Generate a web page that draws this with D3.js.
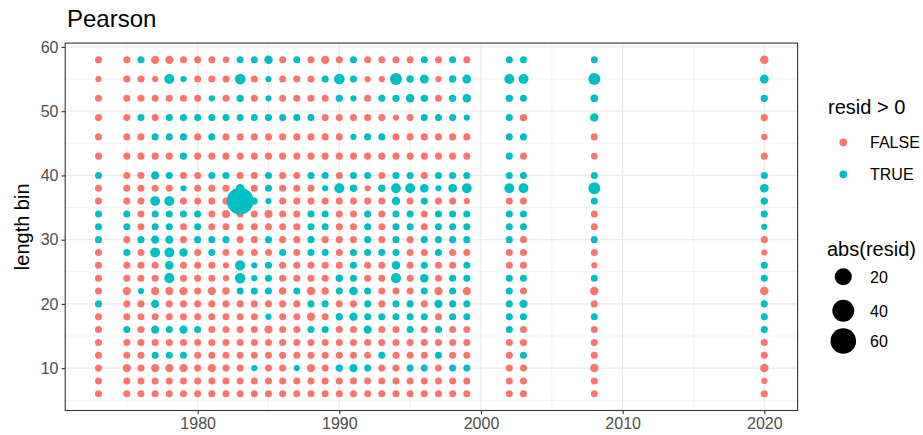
<!DOCTYPE html>
<html>
<head>
<meta charset="utf-8">
<script src="https://cdn.jsdelivr.net/npm/d3@7"></script>
<style>
  body { margin: 0; background: #fff; }
  text { font-family: "Liberation Sans", Arial, sans-serif; }
</style>
</head>
<body>
<svg id="chart" width="923" height="435"></svg>
<script>
// sampled years (x) and length bins (y)
const years = [1973, 1975, 1976, 1977, 1978, 1979, 1980, 1981, 1982, 1983, 1984, 1985, 1986,
  1987, 1988, 1989, 1990, 1991, 1992, 1993, 1994, 1995, 1996, 1997, 1998, 1999, 2002, 2003, 2008, 2020];
const bins = [58, 55, 52, 49, 46, 43, 40, 38, 36, 34, 32, 30, 28, 26, 24, 22, 20, 18, 16, 14, 12, 10, 8, 6];

// pearson residuals, one row per bin (same order as bins), one column per year
const resid = [
  [-.4,-.4,.4,-1.2,-1.2,-.4,-.4,-.4, -.2,.4,.4,1.4,-.4,.4,-.4,-1.2,-.4, .4,-.4,-.4,-.4,-.4,.4,-.4,.4,-.4, .4,.4,.4,-1.4],
  [-.1,-.4,-.4,-.1,3.1,.1,-.4,-.4, -.4,4.1,-.4,.1,-.4,-.4,-.4,.4,4, .4,-.1,-.1,6.4,.6,1.8,-.1,.6,1.8, 3.1,3.1,6.4,1.8],
  [-.4,-.4,-.4,-.4,-.4,-.4,-.4,.1, -.4,.6,-.4,.1,-.4,-.4,-.4,-.4,.6, .1,-.4,.4,.6,1.4,.6,-.4,.6,1.4, .6,.4,.8,.6],
  [-.4,-.4,.4,-.4,.4,.4,.4,.4, .4,.4,.4,.4,.4,.4,.4,-.4,-.4, -.4,-.4,-.4,-.1,-.4,.4,.4,.4,.1, .4,-.6,1.4,-.5],
  [-.4,-.4,-.4,.4,.4,.4,-.4,.4, -.4,-.4,-.4,-.4,-.4,-.4,-.4,-.4,-.4, .1,.4,.4,-.4,-.4,-.4,-.4,-.4,-.4, .4,.4,-.4,-.1],
  [-.4,-.4,-.4,-.4,-.4,.4,-.4,-.4, -.4,-.4,-.4,-.4,-.4,-.4,-.4,-.4,-.4, -.4,-.4,-.4,-.4,-.4,-.4,-.4,-.4,-.4, .4,-.4,-.3,-.4],
  [.4,-.4,-.4,1.2,.4,-.4,-.4,.4, .4,-.4,-.4,.4,-.4,-.4,.4,.4,-.4, .4,.4,-.4,.4,.4,-.4,.4,.4,.4, .4,.4,.4,.4],
  [-.4,-.4,-.4,-.4,-.4,.1,-.4,-.4, -.4,1.5,-.4,.4,-.4,-.4,-.4,.1,3.3, .6,-.1,.6,3,3,1.6,.1,1.6,3, 3,3,6.2,1.6],
  [-.4,-.4,-.4,3,3,-.4,-.4,-.4, -.4,68,.4,.1,-.4,-.4,-.4,-.4,-.4, -.4,-.4,-.4,1.4,-.4,.4,-.4,-.4,-.1, -.4,-.4,.4,.6],
  [.4,.4,-.4,.4,.4,.4,.4,-.4, -1,-.4,-.4,-1,-.4,-.4,.4,.4,-.4, -.4,.4,-.4,.4,.4,-.4,.4,.4,.4, .4,.4,-.4,.4],
  [.4,.4,-.4,.4,.4,-.4,.4,-.4, -.4,-.4,-.4,-.4,-.4,-.4,.4,.4,-.4, -.4,.4,-.4,.4,.4,-.4,.4,.4,.4, .4,.4,-.4,.1],
  [.4,-.4,.4,1.2,1.2,-.4,.4,.4, .4,-.4,-.4,.4,-.4,-.4,.4,-.4,-.4, -.4,.4,-.4,.4,-.4,.4,.4,.4,.4, .4,-.4,.4,-.4],
  [-.4,.4,-.4,3,3,1.4,-.4,.4, -.4,-.4,-.4,-.4,.4,-.4,.4,.4,-.4, .4,.4,.4,.4,-.4,-.4,.4,-.4,-.4, -.4,-.4,-.4,-.1],
  [-.4,-.4,-.4,-.4,1.6,-.4,-.4,-.4, -.1,3.5,.1,.4,-.4,-.4,-.4,-.4,-.4, .4,-.4,-.4,1.4,-.4,.4,-.4,-.4,.4, -.4,-.4,-.1,.4],
  [-.4,-.4,-.4,-.4,3.3,-.4,-.4,-.4, -.1,3.8,.1,.4,-.4,-.4,-.4,-.4,.6, .4,-.4,-.4,3.3,-.4,1.4,-.4,.4,.4, .4,.4,.4,.4],
  [-.4,-1.2,.1,-1.2,-1.2,-1.2,-.4,-1.2, -.6,.4,.4,.4,-.6,.4,-1.5,-.6,.4, 1.4,.4,-.4,-.4,-.4,.4,-1.2,.4,-1.2, .4,-.4,-1.4,-1.4],
  [.4,-.4,-.4,1.2,-.4,-.4,-.4,-.4, -.4,-.4,-.4,-.4,-.4,-.4,.4,.4,-.4, -.4,.4,-.4,.4,.4,-.4,1.2,.4,.4, .4,1.2,-.4,.4],
  [-.4,-.4,-.4,-.4,-.4,-.4,-.4,-.4, -.4,-.4,-.4,.1,-.4,-.4,-1.2,-.4,.6, 1.2,.4,.4,.4,.4,.4,-.4,.4,.4, .4,.4,.4,.4],
  [-.4,.4,-.4,1.2,.4,1.2,.4,-.4, -.4,-.4,-.4,-1,-.4,-.4,.4,.4,-.4, -.4,1.2,-.4,-.4,.4,-.4,.4,-.4,-.4, .4,-.4,-.4,.4],
  [-.4,-.4,-.4,-.4,-.4,-.4,-.4,-.4, -.4,-.4,-.4,-.4,-.4,-.4,-.4,-.4,-.4, -.4,-.4,-.4,-.4,-.4,-.4,-.4,-.4,-.4, -.4,-.4,-.4,-.4],
  [-.4,-.4,-.4,.4,.4,.4,-.4,-.4, -.4,-.4,-.4,-.4,-.4,-.4,-.4,-.4,-.4, -.4,-.4,.4,-.4,-.4,-.4,.4,-.4,-.4, -.4,.4,-.4,-.4],
  [-.4,-1.2,-.4,-1.2,-1.2,-1.2,-.4,-1.2, -.4,-.4,.1,-.4,-.4,.1,-1.2,-.4,.6, 1.2,.4,-.4,-.4,.4,.4,-.4,.4,.4, -.4,-.4,-1.4,-1.4],
  [-.4,-.4,-.4,-.4,-.4,-.4,-.4,-.4, -.4,-.4,-.4,-.4,-.4,-.4,-.4,-.4,-.4, -.4,-.4,-.4,-.4,-.4,-.4,-.4,-.4,-.4, -.4,-.4,-.4,-.1],
  [-.4,-.4,-.4,-.4,-.4,-.4,-.4,-.4, -.4,-.4,-.4,-.4,-.4,-.4,-.4,-.4,-.4, -.4,-.4,-.4,-.4,-.4,-.4,-.4,-.4,-.4, -.4,-.4,-.4,-.4]
];

const xTicks = [1980, 1990, 2000, 2010, 2020];
const xMinor = [1975, 1985, 1995, 2005, 2015];
const yTicks = [10, 20, 30, 40, 50, 60];
const yMinor = [5, 15, 25, 35, 45, 55];
const signLabels = ['FALSE', 'TRUE'];
const sizeBreaks = [20, 40, 60];

const colFalse = '#F8766D', colTrue = '#00BFC4';

// flatten into points, year by year like the data frame
let points = [];
years.forEach((yr, j) => {
  bins.slice().reverse().forEach((b) => {
    let i = bins.indexOf(b);
    points.push({ year: yr, bin: b, resid: resid[i][j] });
  });
});

const svg = d3.select('#chart');
svg.append('rect').attr('width', 923).attr('height', 435).attr('fill', '#fff');

const pLeft = 65.2, pRight = 797.6, pTop = 43.1, pBottom = 410.5;
const x = d3.scaleLinear().domain([1970.65, 2022.35]).range([pLeft, pRight]);
const y = d3.scaleLinear().domain([3.4, 60.6]).range([pBottom, pTop]);
const r = d3.scaleSqrt().domain([0, 70]).range([2.7, 13.6]);

// grid
let grid = svg.append('g');
xMinor.forEach(v => grid.append('line').attr('x1', x(v)).attr('x2', x(v)).attr('y1', pTop).attr('y2', pBottom)
  .attr('stroke', '#EBEBEB').attr('stroke-width', 0.6));
yMinor.forEach(v => grid.append('line').attr('y1', y(v)).attr('y2', y(v)).attr('x1', pLeft).attr('x2', pRight)
  .attr('stroke', '#EBEBEB').attr('stroke-width', 0.6));
xTicks.forEach(v => grid.append('line').attr('x1', x(v)).attr('x2', x(v)).attr('y1', pTop).attr('y2', pBottom)
  .attr('stroke', '#EBEBEB').attr('stroke-width', 1.2));
yTicks.forEach(v => grid.append('line').attr('y1', y(v)).attr('y2', y(v)).attr('x1', pLeft).attr('x2', pRight)
  .attr('stroke', '#EBEBEB').attr('stroke-width', 1.2));

// points
svg.append('g').selectAll('circle')
  .data(points)
  .join('circle')
  .attr('cx', d => x(d.year))
  .attr('cy', d => y(d.bin))
  .attr('r', d => r(Math.abs(d.resid)))
  .attr('fill', d => d.resid > 0 ? colTrue : colFalse);

// panel border
svg.append('rect').attr('x', pLeft).attr('y', pTop).attr('width', pRight - pLeft).attr('height', pBottom - pTop)
  .attr('fill', 'none').attr('stroke', '#333333').attr('stroke-width', 1.1);

// axes
let xAxis = svg.append('g').attr('transform', `translate(0,${pBottom})`)
  .call(d3.axisBottom(x).tickValues(xTicks).tickFormat(d3.format('d')).tickSize(3.7).tickPadding(3));
let yAxis = svg.append('g').attr('transform', `translate(${pLeft},0)`)
  .call(d3.axisLeft(y).tickValues(yTicks).tickSize(3.7).tickPadding(3));
[xAxis, yAxis].forEach(a => {
  a.select('.domain').remove();
  a.selectAll('line').attr('stroke', '#333333').attr('stroke-width', 1.1);
  a.selectAll('text').attr('fill', '#4D4D4D').style('font-size', '16px')
    .style('font-family', '"Liberation Sans", Arial, sans-serif');
});

// titles
svg.append('text').attr('x', 67).attr('y', 27).style('font-size', '24px').attr('fill', '#000').text('Pearson');
svg.append('text').attr('transform', `translate(29,${(pTop + pBottom) / 2}) rotate(-90)`)
  .attr('text-anchor', 'middle').style('font-size', '20px').attr('fill', '#000').text('length bin');

// legends
let leg = svg.append('g');
leg.append('text').attr('x', 828).attr('y', 114).style('font-size', '20px').text('resid > 0');
signLabels.forEach((lab, i) => {
  let cy = 142.3 + i * 32;
  leg.append('circle').attr('cx', 843.3).attr('cy', cy).attr('r', 3.9).attr('fill', i ? colTrue : colFalse);
  leg.append('text').attr('x', 870).attr('y', cy + 5.8).style('font-size', '16px').attr('fill', '#000').text(lab);
});
leg.append('text').attr('x', 827).attr('y', 256).style('font-size', '20px').text('abs(resid)');
let keyY = [276.7, 310.7, 341];
sizeBreaks.forEach((v, i) => {
  leg.append('circle').attr('cx', 843.3).attr('cy', keyY[i]).attr('r', r(v)).attr('fill', '#000');
  leg.append('text').attr('x', 870).attr('y', keyY[i] + 5.8).style('font-size', '16px').attr('fill', '#000').text(v);
});
</script>
</body>
</html>
